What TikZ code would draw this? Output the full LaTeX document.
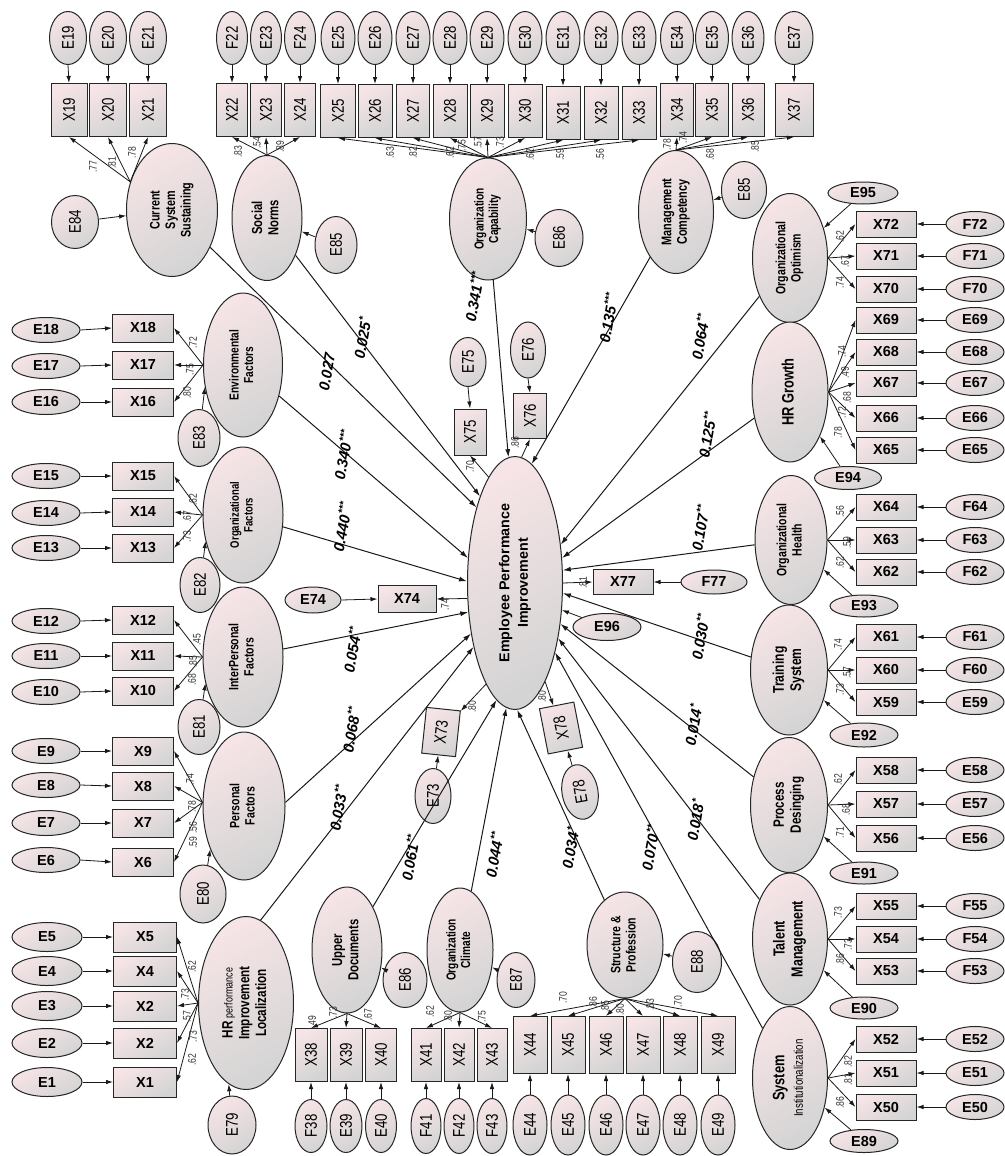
\documentclass[tikz,border=0pt]{standalone}
\usepackage{fontspec}
\setmainfont{Liberation Sans}
\newfontfamily\cond[FakeStretch=0.78]{Liberation Sans}
\usetikzlibrary{shapes.geometric,arrows.meta}
\definecolor{pkc}{RGB}{246,228,230}
\definecolor{grc}{RGB}{212,212,212}
\definecolor{lnc}{RGB}{25,25,25}
\newcommand{\vt}[1]{\rotatebox{90}{#1}}
\newcommand{\vl}[1]{\rotatebox{90}{\begin{tabular}{@{}c@{}}#1\end{tabular}}}
\newcommand{\fsz}[2]{\fontsize{#1}{#2}\selectfont}
\renewcommand{\arraystretch}{1.12}
\tikzset{
 shd/.style={top color=pkc, bottom color=grc, shading angle=30},
 box/.style={rectangle, draw=black!85, line width=1pt, shd, inner sep=0pt},
 oval/.style={ellipse, draw=black!85, line width=1pt, shd, inner sep=0pt},
 hbox/.style={box, font=\bfseries\fsz{14.5}{15}},
 hoval/.style={oval, font=\bfseries\fsz{14.5}{15}},
 vbox/.style={box, minimum height=53, font=\cond\fsz{17}{17}},
 voval/.style={oval, minimum height=53, font=\cond\fsz{17}{17}},
 lat/.style={oval, font=\cond\bfseries\fsz{#1}{#1}},
 arr/.style={draw=lnc, line width=0.8pt, -{Latex[length=7pt,width=4.5pt]}},
 sarr/.style={draw=lnc, line width=1pt, -{Latex[length=8pt,width=5pt]}},
 ld/.style={font=\cond\fsz{11}{11}, rotate=90, inner sep=0pt, text=black!80},
 cf/.style={font=\bfseries\itshape\fsz{15}{15}, rotate=80, inner sep=0pt},
}
\begin{document}
\begin{tikzpicture}[x=1pt,y=-1pt]
\useasboundingbox (0,0) rectangle (1004,1156);
\fill[white] (0,0) rectangle (1004,1156);

% ---------------- central latent
\node[oval, minimum width=95, minimum height=253, font=\bfseries\fsz{14.3}{16.5}] (EPI) at (515,583) {\vl{Employee Performance\\Improvement}};

% ---------------- top row
\foreach \n/\xx/\w/\lab in {19/68/37/E19,20/108/37/E20,21/148/37/E21,22/232/31/F22,23/266/31/E23,24/300/31/F24,25/338/34/E25,26/375/34/E26,27/413/34/E27,28/450/34/E28,29/487/34/E29,30/525/34/E30,31/563/34/E31,32/601/34/E32,33/639/34/E33,34/677/33/E34,35/712/33/E35,36/748/32/E36,37/794/38/E37}
  \node[voval, minimum width=\w] (E\n) at (\xx,38) {\vt{\lab}};
\foreach \n/\xx/\yy/\w in {19/69/110/36,20/108/110/37,21/148/110/37,22/232/110/31,23/266/110/31,24/300/110/31,25/338/111/35,26/375/111/34,27/413/111/33,28/450/111/34,29/487/111/34,30/525/111/34,31/563/113/34,32/601/113/34,33/639/113/34,34/677/110/33,35/712/110/33,36/748/110/32,37/794/110/38}
  \node[vbox, minimum width=\w] (X\n) at (\xx,\yy) {\vt{X\n}};
\foreach \n in {19,...,37} \draw[arr] (E\n.south) -- (X\n.north);

\node[lat=13.8, minimum width=91, minimum height=133] (CSS) at (172,210) {\vl{Current\\System\\Sustaining}};
\node[lat=14.5, minimum width=70, minimum height=125] (SN) at (267,218) {\vl{Social\\Norms}};
\node[lat=13, minimum width=77, minimum height=122] (OCap) at (488,219) {\vl{Organization\\Capability}};
\node[lat=14, minimum width=75, minimum height=123] (MC) at (676,212) {\vl{Management\\Competency}};
\node[voval, minimum width=47] (E84) at (75,222) {\vt{E84}};
\node[voval, minimum width=42, minimum height=57] (E85s) at (336,245) {\vt{E85}};
\node[voval, minimum width=48, minimum height=57] (E86c) at (559,238) {\vt{E86}};
\node[voval, minimum width=45, minimum height=57] (E85m) at (744,190) {\vt{E85}};
\foreach \n in {19,20,21} \draw[arr] (CSS.146) -- (X\n.south);
\foreach \n in {22,23,24} \draw[arr] (SN.north) -- (X\n.south);
\foreach \n in {25,...,33} \draw[arr] (OCap.north) -- (X\n.south);
\foreach \n in {34,...,37} \draw[arr] (MC.north) -- (X\n.south);
\draw[arr] (E84) -- (CSS);
\draw[arr] (E85s) -- (SN);
\draw[arr] (E86c) -- (OCap);
\draw[arr] (E85m) -- (MC);

% ---------------- left column
\foreach \n/\yy/\ly in {18/330/328,17/366/365,16/402/402,15/476/476,14/513/512,13/548/548,12/621/620,11/656/656,10/692/691,9/751/751,8/785/786,7/823/823,6/860/862} {
  \node[hoval, minimum width=68, minimum height=25] (E\n) at (46,\yy) {E\n};
  \node[hbox, minimum width=61, minimum height=28] (X\n) at (143,\ly) {X\n};
  \draw[arr] (E\n.east) -- (X\n.west);
}
\foreach \n/\yy/\lab in {5/937/X5,4/971/X4,3/1006/X2,2/1043/X2,1/1082/X1} {
  \node[hoval, minimum width=70, minimum height=29] (E\n) at (47,\yy) {E\n};
  \node[hbox, minimum width=63, minimum height=30] (X\n) at (145,\yy) {\lab};
  \draw[arr] (E\n.east) -- (X\n.west);
}
\node[lat=13, minimum width=79, minimum height=144] (EF) at (243,365) {\vl{Environmental\\Factors}};
\node[lat=12.2, minimum width=80, minimum height=136] (OF) at (243,515) {\vl{Organizational\\Factors}};
\node[lat=13.5, minimum width=80, minimum height=140] (IPF) at (243,657) {\vl{InterPersonal\\Factors}};
\node[lat=13.5, minimum width=82, minimum height=148] (PF) at (244,806) {\vl{Personal\\Factors}};
\node[lat=15, minimum width=95, minimum height=173] (HR) at (246,1003) {\vl{HR {\mdseries\fsz{11.5}{12}performance}\\Improvement\\Localization}};
\node[voval, minimum width=42, minimum height=57] (E83) at (199,438) {\vt{E83}};
\node[voval, minimum width=40, minimum height=55] (E82) at (200,585) {\vt{E82}};
\node[voval, minimum width=42, minimum height=55] (E81) at (199,727) {\vt{E81}};
\node[voval, minimum width=46, minimum height=58] (E80) at (203,894) {\vt{E80}};
\node[voval, minimum width=48, minimum height=58] (E79) at (232,1125) {\vt{E79}};
\foreach \n in {16,17,18} \draw[arr] (EF.west) -- (X\n.east);
\foreach \n in {13,14,15} \draw[arr] (OF.west) -- (X\n.east);
\foreach \n in {10,11,12} \draw[arr] (IPF.west) -- (X\n.east);
\foreach \n in {6,...,9} \draw[arr] (PF.175) -- (X\n.east);
\foreach \n in {1,...,5} \draw[arr] (HR.west) -- (X\n.east);
\draw[arr] (E83) -- (EF.210);
\draw[arr] (E82) -- (OF.215);
\draw[arr] (E81) -- (IPF.215);
\draw[arr] (E80) -- (PF.232);
\draw[arr] (E79) -- (HR.258);

% ---------------- bottom row
\foreach \n/\xx/\w/\h/\yy/\eh/\ey/\lab in {38/311/32/53/1055/53/1126/F38,39/346/32/53/1055/53/1126/E39,40/381/31/53/1055/53/1126/E40,41/426/30/53/1055/55/1126/F41,42/459/30/53/1055/55/1126/F42,43/492/30/53/1055/55/1126/F43,44/530/34/57/1045/60/1125/E44,45/568/34/57/1045/60/1125/E45,46/606/34/57/1045/60/1125/E46,47/643/34/57/1045/60/1125/E47,48/680/34/57/1045/60/1125/E48,49/718/34/57/1045/60/1125/E49} {
  \node[vbox, minimum width=\w, minimum height=\h] (X\n) at (\xx,\yy) {\vt{X\n}};
  \node[voval, minimum width=\w, minimum height=\eh] (E\n) at (\xx,\ey) {\vt{\lab}};
  \draw[arr] (E\n.north) -- (X\n.south);
}
\node[lat=14.5, minimum width=70, minimum height=126] (UD) at (347,950) {\vl{Upper\\Documents}};
\node[lat=13, minimum width=66, minimum height=124] (OCl) at (460,950) {\vl{Organization\\Climate}};
\node[lat=13.5, minimum width=76, minimum height=106] (SP) at (625,945) {\vl{Structure \&\\Profession}};
\node[voval, minimum width=44, minimum height=55] (E86u) at (405,980) {\vt{E86}};
\node[voval, minimum width=38, minimum height=55] (E87) at (516,980) {\vt{E87}};
\node[voval, minimum width=49, minimum height=61] (E88) at (697,962) {\vt{E88}};
\foreach \n in {38,39,40} \draw[arr] (UD.south) -- (X\n.north);
\foreach \n in {41,42,43} \draw[arr] (OCl.south) -- (X\n.north);
\foreach \n in {44,...,49} \draw[arr] (SP.south) -- (X\n.north);
\draw[arr] (E86u) -- (UD);
\draw[arr] (E87) -- (OCl);
\draw[arr] (E88) -- (SP);

% ---------------- right column
\foreach \n/\yy/\lab in {72/224/F72,71/256/F71,70/289/F70,69/320/E69,68/352/E68,67/383/E67,66/418/E66,65/450/E65,64/507/F64,63/540/F63,62/572/F62,61/637/F61,60/670/F60,59/702/E59,58/770/E58,57/804/E57,56/838/E56,55/906/F55,54/939/F54,53/971/F53,52/1039/E52,51/1073/E51,50/1107/E50} {
  \node[hbox, minimum width=60, minimum height=26] (X\n) at (886,\yy) {X\n};
  \node[hoval, minimum width=58, minimum height=25] (E\n) at (975,\yy) {\lab};
  \draw[arr] (E\n.west) -- (X\n.east);
}
\node[lat=13.5, minimum width=75, minimum height=129] (OO) at (790,258) {\vl{Organizational\\Optimism}};
\node[lat=16.5, minimum width=76, minimum height=140] (HRG) at (790,392) {\vl{HR Growth}};
\node[lat=13.5, minimum width=72, minimum height=129] (OH) at (791,540) {\vl{Organizational\\Health}};
\node[lat=15.5, minimum width=77, minimum height=130] (TS) at (789,670) {\vl{Training\\System}};
\node[lat=15, minimum width=77, minimum height=135] (PD) at (789,805) {\vl{Process\\Desinging}};
\node[lat=16, minimum width=75, minimum height=132] (TM) at (790,939) {\vl{Talent\\Management}};
\node[lat=16.5, minimum width=75, minimum height=143] (SI) at (790,1078) {\vl{System\\{\mdseries\fsz{12.5}{13}Institutionalization}}};
\node[hoval, minimum width=70, minimum height=22] (E95) at (863,193) {E95};
\node[hoval, minimum width=67, minimum height=23] (E94) at (848,478) {E94};
\node[hoval, minimum width=68, minimum height=22] (E93) at (864,606) {E93};
\node[hoval, minimum width=68, minimum height=24] (E92) at (864,735) {E92};
\node[hoval, minimum width=68, minimum height=22] (E91) at (864,873) {E91};
\node[hoval, minimum width=68, minimum height=22] (E90) at (864,1008) {E90};
\node[hoval, minimum width=68, minimum height=23] (E89) at (864,1141) {E89};
\foreach \n in {70,71,72} \draw[arr] (OO.east) -- (X\n.west);
\foreach \n in {65,...,69} \draw[arr] (HRG.east) -- (X\n.west);
\foreach \n in {62,63,64} \draw[arr] (OH.east) -- (X\n.west);
\foreach \n in {59,60,61} \draw[arr] (TS.east) -- (X\n.west);
\foreach \n in {56,57,58} \draw[arr] (PD.east) -- (X\n.west);
\foreach \n in {53,54,55} \draw[arr] (TM.east) -- (X\n.west);
\foreach \n in {50,51,52} \draw[arr] (SI.east) -- (X\n.west);
\draw[arr] (E95) -- (OO);
\draw[arr] (E94) -- (HRG);
\draw[arr] (E93) -- (OH);
\draw[arr] (E92) -- (TS);
\draw[arr] (E91) -- (PD);
\draw[arr] (E90) -- (TM);
\draw[arr] (E89) -- (SI);

% ---------------- indicators of the central latent
\node[voval, minimum width=36, minimum height=49] (E75) at (468,362) {\vt{E75}};
\node[vbox, minimum width=32, minimum height=46] (X75) at (470,432) {\vt{X75}};
\node[voval, minimum width=35, minimum height=56] (E76) at (528,350) {\vt{E76}};
\node[vbox, minimum width=33, minimum height=45] (X76) at (530,416) {\vt{X76}};
\node[hoval, minimum width=56, minimum height=26] (E74) at (313,600) {E74};
\node[hbox, minimum width=58, minimum height=27] (X74) at (407,599) {X74};
\node[hbox, minimum width=60, minimum height=25] (X77) at (623,582) {X77};
\node[hoval, minimum width=66, minimum height=24] (E77) at (714,582) {F77};
\node[hoval, minimum width=68, minimum height=27] (E96) at (607,627) {E96};
\node[box, rotate=84, minimum width=46, minimum height=34, font=\cond\fsz{17}{17}] (X73) at (441,732) {X73};
\node[voval, minimum width=36, minimum height=55] (E73) at (433,796) {\vt{E73}};
\node[box, rotate=101, minimum width=46, minimum height=35, font=\cond\fsz{17}{17}] (X78) at (561,728) {X78};
\node[oval, rotate=100, minimum width=55, minimum height=36, font=\cond\fsz{17}{17}] (E78) at (580,792) {E78};
\draw[arr] (E75.south) -- (X75.north);
\draw[arr] (E76.south) -- (X76.north);
\draw[arr] (E74.east) -- (X74.west);
\draw[arr] (E77.west) -- (X77.east);
\draw[arr] (E73) -- (X73);
\draw[arr] (E78) -- (X78);
\draw[arr] (EPI.104.8) -- (X75.south);
\draw[arr] (EPI.87.8) -- (X76.south);
\draw[arr] (EPI.-162.6) -- (X74.east);
\draw[arr] (EPI.0) -- (X77.west);
\draw[arr] (EPI.-106.7) -- (X73);
\draw[arr] (EPI.-73.3) -- (X78);
\draw[arr] (E96) -- (EPI.-30);

% ---------------- structural paths
\draw[sarr] (CSS) -- (EPI.117.4);
\draw[sarr] (SN) -- (EPI.112.3);
\draw[sarr] (OCap) -- (EPI.93.6);
\draw[sarr] (MC) -- (EPI.82);
\draw[sarr] (OO) -- (EPI.40);
\draw[sarr] (HRG) -- (EPI.28);
\draw[sarr] (OH) -- (EPI.15);
\draw[sarr] (TS) -- (EPI.-12);
\draw[sarr] (PD) -- (EPI.-42);
\draw[sarr] (TM) -- (EPI.-52);
\draw[sarr] (SI) -- (EPI.-60);
\draw[sarr] (SP) -- (EPI.-89);
\draw[sarr] (OCl) -- (EPI.-94);
\draw[sarr] (UD) -- (EPI.-99);
\draw[sarr] (HR.80) -- (EPI.-123.5);
\draw[sarr] (PF.5) -- (EPI.-131);
\draw[sarr] (IPF) -- (EPI.-148);
\draw[sarr] (OF) -- (EPI.178);
\draw[sarr] (EF) -- (EPI.152);

% ---------------- path coefficients
\node[cf] (c1) at (327,372) {0.027};
\node[cf] (c2) at (362,338) {0.025\textsuperscript{*}};
\node[cf] (c3) at (474,297) {0.341\textsuperscript{***}};
\node[cf] (c4) at (608,318) {0.135\textsuperscript{***}};
\node[cf] (c5) at (700,337) {0.064\textsuperscript{**}};
\node[cf] (c6) at (707,435) {0.125\textsuperscript{**}};
\node[cf] (c7) at (700,528) {0.107\textsuperscript{**}};
\node[cf] (c8) at (700,637) {0.030\textsuperscript{**}};
\node[cf] (c9) at (693,725) {0.014\textsuperscript{*}};
\node[cf] (c10) at (695,820) {0.018\textsuperscript{*}};
\node[cf] (c11) at (650,848) {0.070\textsuperscript{**}};
\node[cf] (c12) at (570,848) {0.034\textsuperscript{*}};
\node[cf] (c13) at (494,855) {0.044\textsuperscript{**}};
\node[cf] (c14) at (410,858) {0.061\textsuperscript{**}};
\node[cf] (c15) at (338,808) {0.033\textsuperscript{**}};
\node[cf] (c16) at (351,730) {0.068\textsuperscript{**}};
\node[cf] (c17) at (352,650) {0.054\textsuperscript{**}};
\node[cf] (c18) at (342,527) {0.440\textsuperscript{***}};
\node[cf] (c19) at (343,455) {0.340\textsuperscript{***}};

% ---------------- loadings
\foreach \lx/\ly/\lt [count=\k] in {93/167/.77,112/163/.81,132/153/.78,238/152/.83,257/143/.54,280/147/.89,390/153/.63,413/153/.82,450/153/.62,462/146/.75,478/143/.57,500/143/.73,530/155/.62,560/155/.59,600/155/.56,667/145/.78,683/138/.74,710/155/.68,755/147/.85,193/343/.72,190/370/.75,187/393/.80,193/500/.62,187/517/.67,187/537/.73,197/640/.45,193/662/.85,192/680/.68,190/780/.74,192/807/.78,193/828/.56,193/843/.59,192/967/.62,185/995/.73,187/1017/.57,193/1037/.73,192/1060/.62,840/237/.62,845/262/.67,840/283/.74,842/352/.74,845/373/.49,847/398/.68,842/413/.72,838/433/.78,840/512/.56,847/543/.59,840/563/.62,838/645/.74,847/673/.57,840/690/.73,838/780/.62,846/810/.68,840/833/.71,838/913/.73,848/945/.73,840/960/.86,848/1062/.82,848/1080/.81,840/1103/.86,312/1022/.49,333/1013/.73,368/1015/.67,430/1012/.62,448/1017/.80,482/1017/.75,563/998/.70,593/1003/.86,605/1007/.85,620/1010/.80,650/1005/.83,678/1002/.70,470/467/.70,515/443/.86,445/605/.74,583/583/.81,472/707/.80,542/697/.80}
  \node[ld] (ld\k) at (\lx,\ly) {\lt};
\end{tikzpicture}
\end{document}
